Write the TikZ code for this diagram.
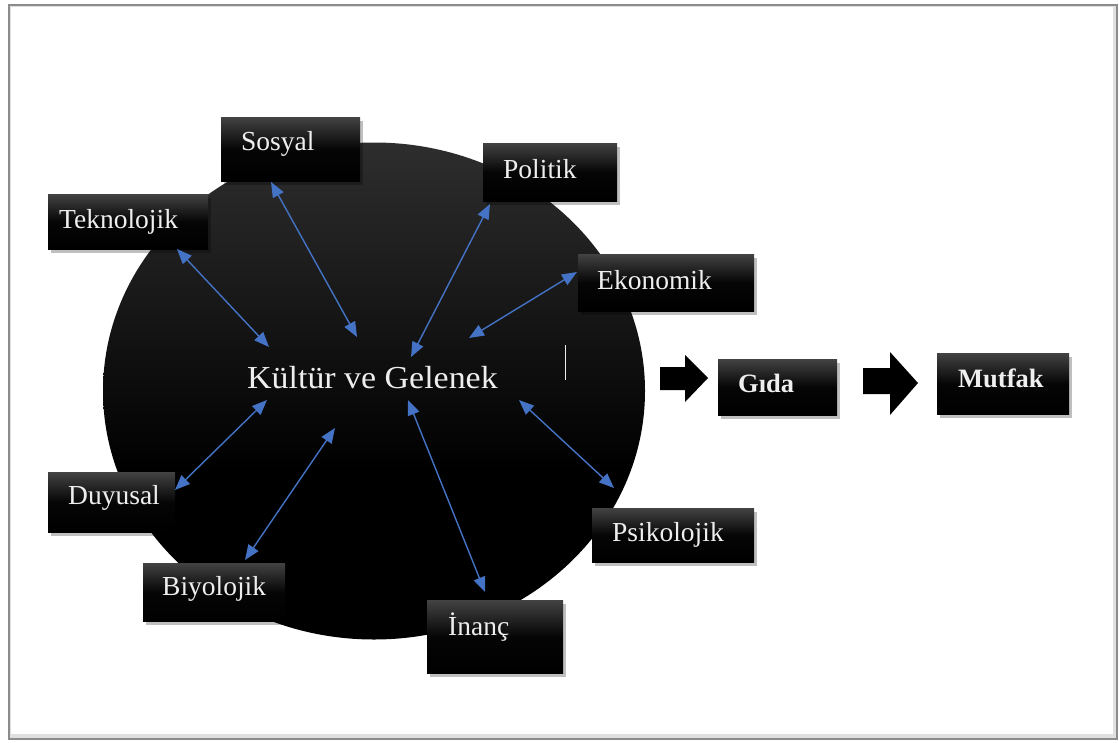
\documentclass[tikz,border=0pt]{standalone}
\usepackage{fontspec}
\setmainfont{Liberation Serif}
\usetikzlibrary{shadows,shapes.geometric,arrows.meta,calc}
\definecolor{linkblue}{RGB}{68,114,196}
\definecolor{txt}{RGB}{238,238,238}
\pgfdeclareverticalshading{boxsh}{100bp}{color(0bp)=(black); color(25bp)=(black); color(50bp)=(black!98); color(75bp)=(black!74); color(100bp)=(black!74)}
\pgfdeclareverticalshading{circsh}{100bp}{color(0bp)=(black); color(25bp)=(black); color(42bp)=(black); color(75bp)=(black!82); color(100bp)=(black!82)}
\tikzset{
  box/.style={shading=boxsh, anchor=north west, inner sep=0pt,
    drop shadow={shadow xshift=3pt, shadow yshift=-4pt, opacity=0.25, fill=black}},
  lbl/.style={text=txt, font=\fontsize{27.5}{30}\selectfont, anchor=base west, inner sep=0pt},
  blbl/.style={lbl, font=\fontsize{26.5}{30}\selectfont\bfseries},
  link/.style={draw=linkblue, line width=1.4pt,
    {Triangle[length=15pt,width=12pt]}-{Triangle[length=15pt,width=12pt]}},
  blockarrow/.style={fill=black}
}
\begin{document}
\begin{tikzpicture}[x=1pt,y=-1pt]
\useasboundingbox (0,0) rectangle (1119,742);
\fill[white] (0,0) rectangle (1119,742);
% frame
\fill[black!45] (8,4) rectangle (1118,740);
\fill[black!12] (10,6) rectangle (1116,738);
\fill[white] (11,7) rectangle (1113,734);

% circle
\node[ellipse, minimum width=542pt, minimum height=497pt, inner sep=0pt, shading=circsh] (circ) at (374,391) {};

% center text
\node[text=txt, inner sep=0pt, anchor=base west] (center) at (247,388)
  {\scalebox{1.06}[1]{\fontsize{32}{36}\selectfont Kültür ve Gelenek}};
\draw[txt, line width=1pt] (565,345) -- (565,380);

% boxes
\node[box, minimum width=139pt, minimum height=64pt] (sosyal) at (221,117) {};
\node[box, minimum width=134pt, minimum height=58pt] (politik) at (483,143) {};
\node[box, minimum width=160pt, minimum height=55pt] (teknolojik) at (48,194) {};
\node[box, minimum width=176pt, minimum height=57pt] (ekonomik) at (578,254) {};
\node[box, minimum width=127pt, minimum height=60pt] (duyusal) at (48,472) {};
\node[box, minimum width=142pt, minimum height=58pt] (biyolojik) at (143,563) {};
\node[box, minimum width=136pt, minimum height=73pt] (inanc) at (427,600) {};
\node[box, minimum width=162pt, minimum height=54pt] (psikolojik) at (592,508) {};
\node[box, minimum width=119pt, minimum height=56pt] (gida) at (718,359) {};
\node[box, minimum width=132pt, minimum height=61pt] (mutfak) at (937,353) {};

% labels
\node[lbl] (tsosyal) at (241,150) {Sosyal};
\node[lbl] (tpolitik) at (503,178) {Politik};
\node[lbl] (tteknolojik) at (59,228) {Teknolojik};
\node[lbl] (tekonomik) at (597,289) {Ekonomik};
\node[lbl] (tduyusal) at (68,504) {Duyusal};
\node[lbl] (tbiyolojik) at (162,595) {Biyolojik};
\node[lbl] (tinanc) at (448,635) {İnanç};
\node[lbl] (tpsikolojik) at (612,541) {Psikolojik};
\node[blbl] (tgida) at (738,392) {Gıda};
\node[blbl] (tmutfak) at (958,387) {Mutfak};

% arrow end points
\coordinate (a1) at (177,249); \coordinate (b1) at (269,347);
\coordinate (a2) at (271,182); \coordinate (b2) at (357,337);
\coordinate (a3) at (490,204); \coordinate (b3) at (411,357);
\coordinate (a4) at (577,272); \coordinate (b4) at (469,338);
\coordinate (a5) at (175,490); \coordinate (b5) at (267,400);
\coordinate (a6) at (245,560); \coordinate (b6) at (335,428);
\coordinate (a7) at (485,592); \coordinate (b7) at (408,400);
\coordinate (a8) at (614,488); \coordinate (b8) at (519,400);
\foreach \i in {1,...,8} {\draw[link] (a\i) -- (b\i);}

% block arrows
\fill[blockarrow] (660,367) -- (685,367) -- (685,355) -- (708,378) -- (685,402) -- (685,390) -- (660,390) -- cycle;
\fill[blockarrow] (863,368) -- (890,368) -- (890,352) -- (918,383) -- (890,415) -- (890,394) -- (863,394) -- cycle;
\end{tikzpicture}
\end{document}
